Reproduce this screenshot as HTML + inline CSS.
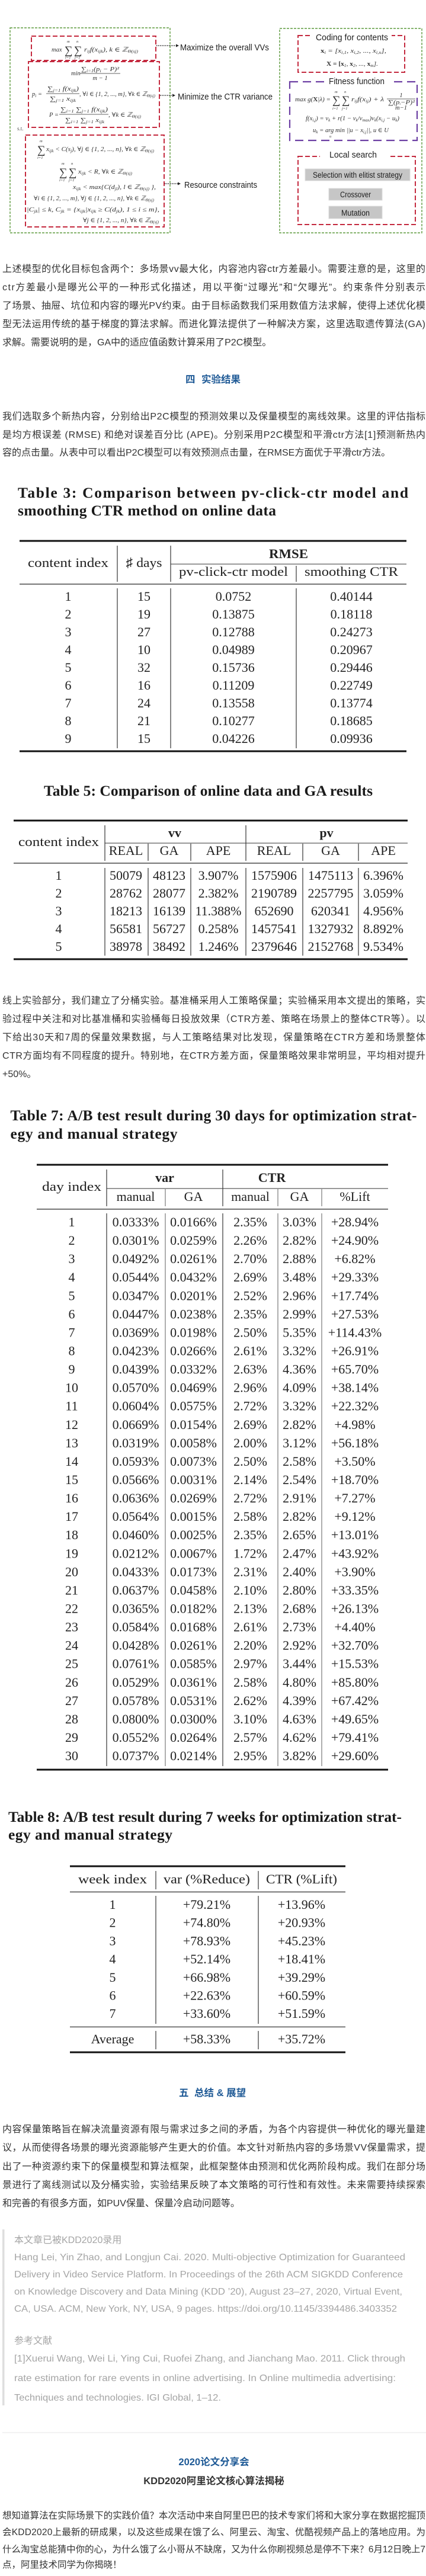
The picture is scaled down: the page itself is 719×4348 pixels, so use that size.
<!DOCTYPE html>
<html><head><meta charset="utf-8">
<style>
html,body{margin:0;padding:0;background:#fff;}
svg{display:block;}
.p{font-family:"Liberation Sans","Noto Sans CJK SC",sans-serif;font-size:16px;fill:#333;}
.p5{font-family:"Liberation Sans","Noto Sans CJK SC",sans-serif;font-size:15.5px;fill:#333;}
.h{font-family:"Liberation Sans","Noto Sans CJK SC",sans-serif;font-size:16.5px;font-weight:bold;fill:#1f5a96;}
.t{font-family:"Liberation Serif",serif;font-size:25.5px;font-weight:bold;fill:#1a1a1a;}
.s{font-family:"Liberation Serif","DejaVu Serif",serif;font-size:22px;fill:#222;}
.b{font-weight:bold;}
.q{font-family:"Liberation Sans","Noto Sans CJK SC",sans-serif;font-size:16px;fill:#a5a5a5;}
.fm{font-family:"Liberation Serif","DejaVu Serif",serif;font-style:italic;font-size:10.5px;fill:#333;}
.sg{font-family:"Liberation Serif","DejaVu Serif",serif;font-style:normal;font-size:19px;fill:#333;}
.lim{font-family:"Liberation Serif","DejaVu Serif",serif;font-style:italic;font-size:6.5px;fill:#333;}
.fl{font-family:"Liberation Sans","DejaVu Sans",sans-serif;font-size:15px;fill:#1e1e1e;}
.bt{font-family:"Liberation Sans","DejaVu Sans",sans-serif;font-size:13.5px;fill:#1e1e1e;}
.vl{stroke:#333;stroke-width:1.2;}
.vg{stroke:#777;stroke-width:1.2;}
</style></head>
<body>
<svg width="719" height="4348" viewBox="0 0 719 4348" xmlns="http://www.w3.org/2000/svg">
<rect x="0" y="0" width="719" height="4348" fill="#fff"/>

<!-- ================= FIGURE ================= -->
<g fill="none">
<rect x="17" y="47" width="270" height="346" stroke="#5f9b3f" stroke-width="1.4" stroke-dasharray="4 2"/>
<rect x="472" y="48" width="240" height="345" stroke="#5f9b3f" stroke-width="1.4" stroke-dasharray="4 2"/>
<rect x="53" y="61" width="210" height="41" stroke="#c42a3f" stroke-width="2" stroke-dasharray="8 4"/>
<rect x="48" y="104" width="221" height="111" stroke="#c42a3f" stroke-width="2" stroke-dasharray="8 4"/>
<rect x="43" y="228" width="234" height="155" stroke="#c42a3f" stroke-width="2" stroke-dasharray="8 4"/>
<rect x="503" y="60" width="180" height="62" stroke="#c42a3f" stroke-width="2" stroke-dasharray="8 4"/>
<rect x="489" y="138" width="215" height="99" stroke="#6c3fa3" stroke-width="2.2" stroke-dasharray="14 8"/>
<rect x="503" y="264" width="198" height="115" stroke="#c42a3f" stroke-width="2" stroke-dasharray="8 4"/>
</g>
<rect x="526" y="52" width="135" height="18" fill="#fff"/>
<rect x="548" y="128" width="109" height="18" fill="#fff"/>
<rect x="540" y="250" width="115" height="20" fill="#fff"/>

<!-- left formulas -->
<text class="fm" x="87" y="87">max</text>
<text class="sg" x="109" y="91">∑</text><text class="sg" x="125" y="91">∑</text>
<text class="lim" x="113" y="72">m</text><text class="lim" x="129" y="72">n</text>
<text class="lim" x="110" y="99">i=1</text><text class="lim" x="126" y="99">j=1</text>
<text class="fm" x="142" y="87" textLength="91" lengthAdjust="spacingAndGlyphs">r<tspan font-size="7" dy="2">ij</tspan><tspan dy="-2">f(x</tspan><tspan font-size="7" dy="2">ijk</tspan><tspan dy="-2">), k ∈ ℤ</tspan><tspan font-size="7" dy="2">Θ(sj)</tspan></text>

<text class="fm" x="120" y="127">min</text>
<text class="fm" x="137" y="120" textLength="64" lengthAdjust="spacingAndGlyphs">∑<tspan font-size="7" dy="2">i=1</tspan><tspan dy="-2">(p</tspan><tspan font-size="7" dy="2">i</tspan><tspan dy="-2"> − P)²</tspan></text>
<line x1="135" y1="124" x2="203" y2="124" stroke="#333" stroke-width="0.8"/>
<text class="fm" x="169" y="135" text-anchor="middle">m − 1</text>

<text class="fm" x="54" y="162">p<tspan font-size="7" dy="2">i</tspan><tspan dy="-2"> =</tspan></text>
<text class="fm" x="80" y="153" textLength="53" lengthAdjust="spacingAndGlyphs">∑<tspan font-size="7" dy="2">j=1</tspan><tspan dy="-2"> f(x</tspan><tspan font-size="7" dy="2">ijk</tspan><tspan dy="-2">)</tspan></text>
<line x1="78" y1="158" x2="134" y2="158" stroke="#333" stroke-width="0.8"/>
<text class="fm" x="84" y="170" textLength="44" lengthAdjust="spacingAndGlyphs">∑<tspan font-size="7" dy="2">j=1</tspan><tspan dy="-2"> x</tspan><tspan font-size="7" dy="2">ijk</tspan></text>
<text class="fm" x="134" y="162" textLength="128" lengthAdjust="spacingAndGlyphs">, ∀i ∈ {1, 2, ..., m}, ∀k ∈ ℤ<tspan font-size="7" dy="2">Θ(sj)</tspan></text>

<text class="fm" x="83" y="197">P =</text>
<text class="fm" x="102" y="188" textLength="80" lengthAdjust="spacingAndGlyphs">∑<tspan font-size="7" dy="2">i=1</tspan><tspan dy="-2"> ∑</tspan><tspan font-size="7" dy="2">j=1</tspan><tspan dy="-2"> f(x</tspan><tspan font-size="7" dy="2">ijk</tspan><tspan dy="-2">)</tspan></text>
<line x1="100" y1="193" x2="183" y2="193" stroke="#333" stroke-width="0.8"/>
<text class="fm" x="110" y="206" textLength="66" lengthAdjust="spacingAndGlyphs">∑<tspan font-size="7" dy="2">i=1</tspan><tspan dy="-2"> ∑</tspan><tspan font-size="7" dy="2">j=1</tspan><tspan dy="-2"> x</tspan><tspan font-size="7" dy="2">ijk</tspan></text>
<text class="fm" x="183" y="197" textLength="55" lengthAdjust="spacingAndGlyphs">, ∀k ∈ ℤ<tspan font-size="7" dy="2">Θ(sj)</tspan></text>
<text x="29" y="220" font-family="Liberation Serif,serif" font-size="9" fill="#555">s.t.</text>

<text class="sg" x="63" y="259">∑</text>
<text class="lim" x="67" y="240">m</text><text class="lim" x="63" y="268">i=1</text>
<text class="fm" x="78" y="255" textLength="182" lengthAdjust="spacingAndGlyphs">x<tspan font-size="7" dy="2">ijk</tspan><tspan dy="-2"> &lt; C(s</tspan><tspan font-size="7" dy="2">j</tspan><tspan dy="-2">), ∀j ∈ {1, 2, ..., n}, ∀k ∈ ℤ</tspan><tspan font-size="7" dy="2">Θ(sj)</tspan></text>
<text class="sg" x="100" y="297">∑</text><text class="sg" x="116" y="297">∑</text>
<text class="lim" x="104" y="278">m</text><text class="lim" x="120" y="278">n</text>
<text class="lim" x="100" y="306">i=1</text><text class="lim" x="116" y="306">j=1</text>
<text class="fm" x="132" y="293" textLength="91" lengthAdjust="spacingAndGlyphs">x<tspan font-size="7" dy="2">ijk</tspan><tspan dy="-2"> &lt; R, ∀k ∈ ℤ</tspan><tspan font-size="7" dy="2">Θ(sj)</tspan></text>
<text class="fm" x="123" y="319" textLength="140" lengthAdjust="spacingAndGlyphs">x<tspan font-size="7" dy="2">ijk</tspan><tspan dy="-2"> &lt; max{C(d</tspan><tspan font-size="7" dy="2">jl</tspan><tspan dy="-2">), l ∈ ℤ</tspan><tspan font-size="7" dy="2">Θ(sj)</tspan><tspan dy="-2"> },</tspan></text>
<text class="fm" x="57" y="338" textLength="203" lengthAdjust="spacingAndGlyphs">∀i ∈ {1, 2, ..., m}, ∀j ∈ {1, 2, ..., n}, ∀k ∈ ℤ<tspan font-size="7" dy="2">Θ(sj)</tspan></text>
<text class="fm" x="45" y="357" textLength="224" lengthAdjust="spacingAndGlyphs">|C<tspan font-size="7" dy="2">jk</tspan><tspan dy="-2">| ≤ k, C</tspan><tspan font-size="7" dy="2">jk</tspan><tspan dy="-2"> = {x</tspan><tspan font-size="7" dy="2">ijk</tspan><tspan dy="-2">|x</tspan><tspan font-size="7" dy="2">ijk</tspan><tspan dy="-2"> ≥ C(d</tspan><tspan font-size="7" dy="2">jk</tspan><tspan dy="-2">), 1 ≤ i ≤ m},</tspan></text>
<text class="fm" x="140" y="375" textLength="128" lengthAdjust="spacingAndGlyphs">∀j ∈ {1, 2, ..., n}, ∀k ∈ ℤ<tspan font-size="7" dy="2">Θ(sj)</tspan></text>

<!-- arrows -->
<line x1="264" y1="77" x2="297" y2="77" stroke="#222" stroke-width="1.5" stroke-dasharray="1.5 1.5"/>
<polygon points="297,74.5 302,77 297,79.5" fill="#222"/>
<line x1="270" y1="161" x2="291" y2="161" stroke="#222" stroke-width="1.5" stroke-dasharray="1.5 1.5"/>
<polygon points="291,158.5 296,161 291,163.5" fill="#222"/>
<line x1="278" y1="310" x2="300" y2="310" stroke="#222" stroke-width="1.5" stroke-dasharray="1.5 1.5"/>
<polygon points="300,307.5 305,310 300,312.5" fill="#222"/>
<text class="fl" x="304" y="85" textLength="150" lengthAdjust="spacingAndGlyphs">Maximize the overall VVs</text>
<text class="fl" x="300" y="168" textLength="160" lengthAdjust="spacingAndGlyphs">Minimize the CTR variance</text>
<text class="fl" x="311" y="317" textLength="123" lengthAdjust="spacingAndGlyphs">Resource constraints</text>

<!-- right side -->
<text class="fl" x="533" y="68" textLength="122" lengthAdjust="spacingAndGlyphs">Coding for contents</text>
<text class="fm" x="541" y="89" textLength="111" lengthAdjust="spacingAndGlyphs"><tspan font-weight="bold" font-style="normal">x</tspan><tspan font-size="7" dy="2">i</tspan><tspan dy="-2"> = [x</tspan><tspan font-size="7" dy="2">i,1</tspan><tspan dy="-2">, x</tspan><tspan font-size="7" dy="2">i,2</tspan><tspan dy="-2">, ..., x</tspan><tspan font-size="7" dy="2">i,n</tspan><tspan dy="-2">],</tspan></text>
<text class="fm" x="551" y="111" textLength="87" lengthAdjust="spacingAndGlyphs"><tspan font-weight="bold" font-style="normal">X = [x</tspan><tspan font-size="7" dy="2">1</tspan><tspan dy="-2">, </tspan><tspan font-weight="bold" font-style="normal">x</tspan><tspan font-size="7" dy="2">2</tspan><tspan dy="-2">, ..., </tspan><tspan font-weight="bold" font-style="normal">x</tspan><tspan font-size="7" dy="2">m</tspan><tspan dy="-2">].</tspan></text>

<text class="fl" x="555" y="142" textLength="94" lengthAdjust="spacingAndGlyphs">Fitness function</text>
<text class="fm" x="498" y="171" textLength="60" lengthAdjust="spacingAndGlyphs">max g(<tspan font-weight="bold" font-style="normal">X</tspan>|λ) =</text>
<text class="sg" x="561" y="175" font-size="18">∑</text><text class="sg" x="577" y="175" font-size="18">∑</text>
<text class="lim" x="565" y="157">m</text><text class="lim" x="581" y="157">n</text>
<text class="lim" x="561" y="185">i=1</text><text class="lim" x="577" y="185">j=1</text>
<text class="fm" x="593" y="171" textLength="55" lengthAdjust="spacingAndGlyphs">r<tspan font-size="7" dy="2">ij</tspan><tspan dy="-2">f(x</tspan><tspan font-size="7" dy="2">ij</tspan><tspan dy="-2">) + λ</tspan></text>
<text class="fm" x="677" y="164" text-anchor="middle">1</text>
<line x1="653" y1="167" x2="701" y2="167" stroke="#333" stroke-width="0.8"/>
<text class="fm" x="655" y="176" font-size="7" textLength="45" lengthAdjust="spacingAndGlyphs">∑(p<tspan font-size="5" dy="1">i</tspan><tspan dy="-1">−P)²</tspan></text>
<text class="fm" x="677" y="185" font-size="7" text-anchor="middle">m−1</text>
<text class="fm" x="516" y="203" textLength="158" lengthAdjust="spacingAndGlyphs">f(x<tspan font-size="7" dy="2">i,j</tspan><tspan dy="-2">) = v</tspan><tspan font-size="7" dy="2">k</tspan><tspan dy="-2"> + r(1 − v</tspan><tspan font-size="7" dy="2">k</tspan><tspan dy="-2">/v</tspan><tspan font-size="7" dy="2">max</tspan><tspan dy="-2">)v</tspan><tspan font-size="7" dy="2">k</tspan><tspan dy="-2">(x</tspan><tspan font-size="7" dy="2">i,j</tspan><tspan dy="-2"> − u</tspan><tspan font-size="7" dy="2">k</tspan><tspan dy="-2">)</tspan></text>
<text class="fm" x="528" y="223" textLength="128" lengthAdjust="spacingAndGlyphs">u<tspan font-size="7" dy="2">k</tspan><tspan dy="-2"> = arg min ||u − x</tspan><tspan font-size="7" dy="2">i,j</tspan><tspan dy="-2">||, u ∈ U</tspan></text>
<text class="lim" x="556" y="232">u</text>

<text class="fl" x="556" y="266" textLength="80" lengthAdjust="spacingAndGlyphs">Local search</text>
<rect x="515" y="285" width="177" height="20" fill="#c6c6c6" stroke="#dcdcdc" stroke-width="1"/>
<text class="bt" x="528" y="300" textLength="151" lengthAdjust="spacingAndGlyphs">Selection with elitist strategy</text>
<rect x="555" y="318" width="90" height="20" fill="#c6c6c6" stroke="#dcdcdc" stroke-width="1"/>
<text class="bt" x="574" y="333" textLength="52" lengthAdjust="spacingAndGlyphs">Crossover</text>
<rect x="555" y="348" width="90" height="21" fill="#c6c6c6" stroke="#dcdcdc" stroke-width="1"/>
<text class="bt" x="576" y="364" textLength="48" lengthAdjust="spacingAndGlyphs">Mutation</text>

<!-- ================= PARAGRAPH 1 ================= -->
<text class="p" x="4" y="459" textLength="714" lengthAdjust="spacing">上述模型的优化目标包含两个：多场景vv最大化，内容池内容ctr方差最小。需要注意的是，这里的</text>
<text class="p" x="4" y="490" textLength="714" lengthAdjust="spacing">ctr方差最小是曝光公平的一种形式化描述，用以平衡“过曝光”和“欠曝光”。约束条件分别表示</text>
<text class="p" x="4" y="521" textLength="714" lengthAdjust="spacing">了场景、抽屉、坑位和内容的曝光PV约束。由于目标函数我们采用数值方法求解，使得上述优化模</text>
<text class="p" x="4" y="552" textLength="714" lengthAdjust="spacing">型无法运用传统的基于梯度的算法求解。而进化算法提供了一种解决方案，这里选取遗传算法(GA)</text>
<text class="p" x="4" y="583">求解。需要说明的是，GA中的适应值函数计算采用了P2C模型。</text>

<text class="h" x="313" y="646">四</text><text class="h" x="340" y="646">实验结果</text>

<text class="p" x="4" y="708" textLength="714" lengthAdjust="spacing">我们选取多个新热内容，分别给出P2C模型的预测效果以及保量模型的离线效果。这里的评估指标</text>
<text class="p" x="4" y="739" textLength="714" lengthAdjust="spacing">是均方根误差 (RMSE) 和绝对误差百分比 (APE)。分别采用P2C模型和平滑ctr方法[1]预测新热内</text>
<text class="p" x="4" y="769">容的点击量。从表中可以看出P2C模型可以有效预测点击量，在RMSE方面优于平滑ctr方法。</text>

<!-- ================= TABLE 3 ================= -->
<text class="t" x="30" y="840" textLength="659" lengthAdjust="spacing">Table 3: Comparison between pv-click-ctr model and</text>
<text class="t" x="30" y="870" textLength="436" lengthAdjust="spacing">smoothing CTR method on online data</text>

<rect x="33" y="911.5" width="653" height="3" fill="#111"/>
<rect x="288" y="951.5" width="398" height="1.2" fill="#555"/>
<rect x="33" y="985" width="653" height="1.8" fill="#666"/>
<rect x="33" y="1266.5" width="653" height="3" fill="#111"/>
<line class="vl" x1="198" y1="921" x2="198" y2="982"/>
<line class="vl" x1="288" y1="921" x2="288" y2="982"/>
<line class="vl" x1="500" y1="955" x2="500" y2="982"/>
<line class="vl" x1="198" y1="993" x2="198" y2="1263"/>
<line class="vl" x1="288" y1="993" x2="288" y2="1263"/>
<line class="vl" x1="500" y1="993" x2="500" y2="1263"/>
<text class="s" x="115" y="957" text-anchor="middle" textLength="136" lengthAdjust="spacingAndGlyphs">content index</text>
<text class="s" x="243" y="957" text-anchor="middle" textLength="61" lengthAdjust="spacingAndGlyphs">♯ days</text>
<text class="s b" x="487" y="942" text-anchor="middle" textLength="66" lengthAdjust="spacingAndGlyphs">RMSE</text>
<text class="s" x="394" y="972" text-anchor="middle" textLength="184" lengthAdjust="spacingAndGlyphs">pv-click-ctr model</text>
<text class="s" x="593" y="972" text-anchor="middle" textLength="158" lengthAdjust="spacingAndGlyphs">smoothing CTR</text>
<g class="s" text-anchor="middle">
<text y="1014"><tspan x="115">1</tspan><tspan x="243">15</tspan><tspan x="394">0.0752</tspan><tspan x="593">0.40144</tspan></text>
<text y="1044"><tspan x="115">2</tspan><tspan x="243">19</tspan><tspan x="394">0.13875</tspan><tspan x="593">0.18118</tspan></text>
<text y="1074"><tspan x="115">3</tspan><tspan x="243">27</tspan><tspan x="394">0.12788</tspan><tspan x="593">0.24273</tspan></text>
<text y="1104"><tspan x="115">4</tspan><tspan x="243">10</tspan><tspan x="394">0.04989</tspan><tspan x="593">0.20967</tspan></text>
<text y="1134"><tspan x="115">5</tspan><tspan x="243">32</tspan><tspan x="394">0.15736</tspan><tspan x="593">0.29446</tspan></text>
<text y="1164"><tspan x="115">6</tspan><tspan x="243">16</tspan><tspan x="394">0.11209</tspan><tspan x="593">0.22749</tspan></text>
<text y="1194"><tspan x="115">7</tspan><tspan x="243">24</tspan><tspan x="394">0.13558</tspan><tspan x="593">0.13774</tspan></text>
<text y="1224"><tspan x="115">8</tspan><tspan x="243">21</tspan><tspan x="394">0.10277</tspan><tspan x="593">0.18685</tspan></text>
<text y="1254"><tspan x="115">9</tspan><tspan x="243">15</tspan><tspan x="394">0.04226</tspan><tspan x="593">0.09936</tspan></text>
</g>

<!-- ================= TABLE 5 ================= -->
<text class="t" x="74" y="1343" textLength="555" lengthAdjust="spacing">Table 5: Comparison of online data and GA results</text>
<rect x="23" y="1383.5" width="665" height="3" fill="#111"/>
<rect x="177" y="1422.5" width="511" height="1.2" fill="#555"/>
<rect x="23" y="1456" width="665" height="1.8" fill="#666"/>
<rect x="23" y="1617.5" width="665" height="3" fill="#111"/>
<line class="vl" x1="177" y1="1393" x2="177" y2="1453"/>
<line class="vl" x1="415" y1="1393" x2="415" y2="1453"/>
<line class="vl" x1="250" y1="1424" x2="250" y2="1453"/>
<line class="vl" x1="322" y1="1424" x2="322" y2="1453"/>
<line class="vl" x1="511" y1="1424" x2="511" y2="1453"/>
<line class="vl" x1="605" y1="1424" x2="605" y2="1453"/>
<line class="vl" x1="177" y1="1465" x2="177" y2="1613"/>
<line class="vl" x1="250" y1="1465" x2="250" y2="1613"/>
<line class="vl" x1="322" y1="1465" x2="322" y2="1613"/>
<line class="vl" x1="415" y1="1465" x2="415" y2="1613"/>
<line class="vl" x1="511" y1="1465" x2="511" y2="1613"/>
<line class="vl" x1="605" y1="1465" x2="605" y2="1613"/>
<text class="s" x="99" y="1428" text-anchor="middle" textLength="136" lengthAdjust="spacingAndGlyphs">content index</text>
<text class="s b" x="295" y="1413" text-anchor="middle">vv</text>
<text class="s b" x="551" y="1413" text-anchor="middle">pv</text>
<g class="s" text-anchor="middle">
<text y="1443"><tspan x="212.5">REAL</tspan><tspan x="285.5">GA</tspan><tspan x="368.5">APE</tspan><tspan x="462.5">REAL</tspan><tspan x="558">GA</tspan><tspan x="647">APE</tspan></text>
<text y="1485"><tspan x="99">1</tspan><tspan x="212.5">50079</tspan><tspan x="285.5">48123</tspan><tspan x="368.5">3.907%</tspan><tspan x="462.5">1575906</tspan><tspan x="558">1475113</tspan><tspan x="647">6.396%</tspan></text>
<text y="1515"><tspan x="99">2</tspan><tspan x="212.5">28762</tspan><tspan x="285.5">28077</tspan><tspan x="368.5">2.382%</tspan><tspan x="462.5">2190789</tspan><tspan x="558">2257795</tspan><tspan x="647">3.059%</tspan></text>
<text y="1545"><tspan x="99">3</tspan><tspan x="212.5">18213</tspan><tspan x="285.5">16139</tspan><tspan x="368.5">11.388%</tspan><tspan x="462.5">652690</tspan><tspan x="558">620341</tspan><tspan x="647">4.956%</tspan></text>
<text y="1575"><tspan x="99">4</tspan><tspan x="212.5">56581</tspan><tspan x="285.5">56727</tspan><tspan x="368.5">0.258%</tspan><tspan x="462.5">1457541</tspan><tspan x="558">1327932</tspan><tspan x="647">8.892%</tspan></text>
<text y="1605"><tspan x="99">5</tspan><tspan x="212.5">38978</tspan><tspan x="285.5">38492</tspan><tspan x="368.5">1.246%</tspan><tspan x="462.5">2379646</tspan><tspan x="558">2152768</tspan><tspan x="647">9.534%</tspan></text>
</g>

<!-- ================= PARAGRAPH 3 ================= -->
<text class="p" x="4" y="1694" textLength="714" lengthAdjust="spacing">线上实验部分，我们建立了分桶实验。基准桶采用人工策略保量；实验桶采用本文提出的策略，实</text>
<text class="p" x="4" y="1725" textLength="714" lengthAdjust="spacing">验过程中关注和对比基准桶和实验桶每日投放效果（CTR方差、策略在场景上的整体CTR等）。以</text>
<text class="p" x="4" y="1756" textLength="714" lengthAdjust="spacing">下给出30天和7周的保量效果数据，与人工策略结果对比发现，保量策略在CTR方差和场景整体</text>
<text class="p" x="4" y="1787" textLength="714" lengthAdjust="spacing">CTR方面均有不同程度的提升。特别地，在CTR方差方面，保量策略效果非常明显，平均相对提升</text>
<text class="p" x="4" y="1818">+50%。</text>

<!-- ================= TABLE 7 ================= -->
<text class="t" x="17.5" y="1891" textLength="686" lengthAdjust="spacing">Table 7: A/B test result during 30 days for optimization strat-</text>
<text class="t" x="17.5" y="1922" textLength="282" lengthAdjust="spacing">egy and manual strategy</text>
<rect x="62" y="1964.5" width="593" height="3" fill="#111"/>
<rect x="180" y="2005.5" width="475" height="1.2" fill="#555"/>
<rect x="62" y="2040" width="593" height="1.8" fill="#666"/>
<rect x="62" y="2985.5" width="593" height="3" fill="#111"/>
<line class="vl" x1="180" y1="1974" x2="180" y2="2036"/>
<line class="vl" x1="376" y1="1974" x2="376" y2="2036"/>
<line class="vg" x1="279" y1="2007" x2="279" y2="2036"/>
<line class="vg" x1="469" y1="2007" x2="469" y2="2036"/>
<line class="vg" x1="543" y1="2007" x2="543" y2="2036"/>
<line class="vl" x1="180" y1="2048" x2="180" y2="2981"/>
<line class="vg" x1="279" y1="2048" x2="279" y2="2981"/>
<line class="vl" x1="376" y1="2048" x2="376" y2="2981"/>
<line class="vg" x1="469" y1="2048" x2="469" y2="2981"/>
<line class="vg" x1="543" y1="2048" x2="543" y2="2981"/>
<text class="s" x="121" y="2010" text-anchor="middle" textLength="100" lengthAdjust="spacingAndGlyphs">day index</text>
<text class="s b" x="278" y="1995" text-anchor="middle">var</text>
<text class="s b" x="459" y="1995" text-anchor="middle">CTR</text>
<g class="s" text-anchor="middle">
<text y="2027"><tspan x="229">manual</tspan><tspan x="326.5">GA</tspan><tspan x="422.5">manual</tspan><tspan x="505.5">GA</tspan><tspan x="599">%Lift</tspan></text>
<text y="2070"><tspan x="121">1</tspan><tspan x="229">0.0333%</tspan><tspan x="326.5">0.0166%</tspan><tspan x="422.5">2.35%</tspan><tspan x="505.5">3.03%</tspan><tspan x="599">+28.94%</tspan></text>
<text y="2101.1"><tspan x="121">2</tspan><tspan x="229">0.0301%</tspan><tspan x="326.5">0.0259%</tspan><tspan x="422.5">2.26%</tspan><tspan x="505.5">2.82%</tspan><tspan x="599">+24.90%</tspan></text>
<text y="2132.1"><tspan x="121">3</tspan><tspan x="229">0.0492%</tspan><tspan x="326.5">0.0261%</tspan><tspan x="422.5">2.70%</tspan><tspan x="505.5">2.88%</tspan><tspan x="599">+6.82%</tspan></text>
<text y="2163.2"><tspan x="121">4</tspan><tspan x="229">0.0544%</tspan><tspan x="326.5">0.0432%</tspan><tspan x="422.5">2.69%</tspan><tspan x="505.5">3.48%</tspan><tspan x="599">+29.33%</tspan></text>
<text y="2194.3"><tspan x="121">5</tspan><tspan x="229">0.0347%</tspan><tspan x="326.5">0.0201%</tspan><tspan x="422.5">2.52%</tspan><tspan x="505.5">2.96%</tspan><tspan x="599">+17.74%</tspan></text>
<text y="2225.4"><tspan x="121">6</tspan><tspan x="229">0.0447%</tspan><tspan x="326.5">0.0238%</tspan><tspan x="422.5">2.35%</tspan><tspan x="505.5">2.99%</tspan><tspan x="599">+27.53%</tspan></text>
<text y="2256.4"><tspan x="121">7</tspan><tspan x="229">0.0369%</tspan><tspan x="326.5">0.0198%</tspan><tspan x="422.5">2.50%</tspan><tspan x="505.5">5.35%</tspan><tspan x="599">+114.43%</tspan></text>
<text y="2287.5"><tspan x="121">8</tspan><tspan x="229">0.0423%</tspan><tspan x="326.5">0.0266%</tspan><tspan x="422.5">2.61%</tspan><tspan x="505.5">3.32%</tspan><tspan x="599">+26.91%</tspan></text>
<text y="2318.6"><tspan x="121">9</tspan><tspan x="229">0.0439%</tspan><tspan x="326.5">0.0332%</tspan><tspan x="422.5">2.63%</tspan><tspan x="505.5">4.36%</tspan><tspan x="599">+65.70%</tspan></text>
<text y="2349.6"><tspan x="121">10</tspan><tspan x="229">0.0570%</tspan><tspan x="326.5">0.0469%</tspan><tspan x="422.5">2.96%</tspan><tspan x="505.5">4.09%</tspan><tspan x="599">+38.14%</tspan></text>
<text y="2380.7"><tspan x="121">11</tspan><tspan x="229">0.0604%</tspan><tspan x="326.5">0.0575%</tspan><tspan x="422.5">2.72%</tspan><tspan x="505.5">3.32%</tspan><tspan x="599">+22.32%</tspan></text>
<text y="2411.8"><tspan x="121">12</tspan><tspan x="229">0.0669%</tspan><tspan x="326.5">0.0154%</tspan><tspan x="422.5">2.69%</tspan><tspan x="505.5">2.82%</tspan><tspan x="599">+4.98%</tspan></text>
<text y="2442.8"><tspan x="121">13</tspan><tspan x="229">0.0319%</tspan><tspan x="326.5">0.0058%</tspan><tspan x="422.5">2.00%</tspan><tspan x="505.5">3.12%</tspan><tspan x="599">+56.18%</tspan></text>
<text y="2473.9"><tspan x="121">14</tspan><tspan x="229">0.0593%</tspan><tspan x="326.5">0.0073%</tspan><tspan x="422.5">2.50%</tspan><tspan x="505.5">2.58%</tspan><tspan x="599">+3.50%</tspan></text>
<text y="2505"><tspan x="121">15</tspan><tspan x="229">0.0566%</tspan><tspan x="326.5">0.0031%</tspan><tspan x="422.5">2.14%</tspan><tspan x="505.5">2.54%</tspan><tspan x="599">+18.70%</tspan></text>
<text y="2536.1"><tspan x="121">16</tspan><tspan x="229">0.0636%</tspan><tspan x="326.5">0.0269%</tspan><tspan x="422.5">2.72%</tspan><tspan x="505.5">2.91%</tspan><tspan x="599">+7.27%</tspan></text>
<text y="2567.1"><tspan x="121">17</tspan><tspan x="229">0.0564%</tspan><tspan x="326.5">0.0015%</tspan><tspan x="422.5">2.58%</tspan><tspan x="505.5">2.82%</tspan><tspan x="599">+9.12%</tspan></text>
<text y="2598.2"><tspan x="121">18</tspan><tspan x="229">0.0460%</tspan><tspan x="326.5">0.0025%</tspan><tspan x="422.5">2.35%</tspan><tspan x="505.5">2.65%</tspan><tspan x="599">+13.01%</tspan></text>
<text y="2629.3"><tspan x="121">19</tspan><tspan x="229">0.0212%</tspan><tspan x="326.5">0.0067%</tspan><tspan x="422.5">1.72%</tspan><tspan x="505.5">2.47%</tspan><tspan x="599">+43.92%</tspan></text>
<text y="2660.3"><tspan x="121">20</tspan><tspan x="229">0.0433%</tspan><tspan x="326.5">0.0173%</tspan><tspan x="422.5">2.31%</tspan><tspan x="505.5">2.40%</tspan><tspan x="599">+3.90%</tspan></text>
<text y="2691.4"><tspan x="121">21</tspan><tspan x="229">0.0637%</tspan><tspan x="326.5">0.0458%</tspan><tspan x="422.5">2.10%</tspan><tspan x="505.5">2.80%</tspan><tspan x="599">+33.35%</tspan></text>
<text y="2722.5"><tspan x="121">22</tspan><tspan x="229">0.0365%</tspan><tspan x="326.5">0.0182%</tspan><tspan x="422.5">2.13%</tspan><tspan x="505.5">2.68%</tspan><tspan x="599">+26.13%</tspan></text>
<text y="2753.6"><tspan x="121">23</tspan><tspan x="229">0.0584%</tspan><tspan x="326.5">0.0168%</tspan><tspan x="422.5">2.61%</tspan><tspan x="505.5">2.73%</tspan><tspan x="599">+4.40%</tspan></text>
<text y="2784.6"><tspan x="121">24</tspan><tspan x="229">0.0428%</tspan><tspan x="326.5">0.0261%</tspan><tspan x="422.5">2.20%</tspan><tspan x="505.5">2.92%</tspan><tspan x="599">+32.70%</tspan></text>
<text y="2815.7"><tspan x="121">25</tspan><tspan x="229">0.0761%</tspan><tspan x="326.5">0.0585%</tspan><tspan x="422.5">2.97%</tspan><tspan x="505.5">3.44%</tspan><tspan x="599">+15.53%</tspan></text>
<text y="2846.8"><tspan x="121">26</tspan><tspan x="229">0.0529%</tspan><tspan x="326.5">0.0361%</tspan><tspan x="422.5">2.58%</tspan><tspan x="505.5">4.80%</tspan><tspan x="599">+85.80%</tspan></text>
<text y="2877.9"><tspan x="121">27</tspan><tspan x="229">0.0578%</tspan><tspan x="326.5">0.0531%</tspan><tspan x="422.5">2.62%</tspan><tspan x="505.5">4.39%</tspan><tspan x="599">+67.42%</tspan></text>
<text y="2908.9"><tspan x="121">28</tspan><tspan x="229">0.0800%</tspan><tspan x="326.5">0.0300%</tspan><tspan x="422.5">3.10%</tspan><tspan x="505.5">4.63%</tspan><tspan x="599">+49.65%</tspan></text>
<text y="2940"><tspan x="121">29</tspan><tspan x="229">0.0552%</tspan><tspan x="326.5">0.0264%</tspan><tspan x="422.5">2.57%</tspan><tspan x="505.5">4.62%</tspan><tspan x="599">+79.41%</tspan></text>
<text y="2971.1"><tspan x="121">30</tspan><tspan x="229">0.0737%</tspan><tspan x="326.5">0.0214%</tspan><tspan x="422.5">2.95%</tspan><tspan x="505.5">3.82%</tspan><tspan x="599">+29.60%</tspan></text>
</g>

<!-- ================= TABLE 8 ================= -->
<text class="t" x="14" y="3075" textLength="664" lengthAdjust="spacing">Table 8: A/B test result during 7 weeks for optimization strat-</text>
<text class="t" x="14" y="3105" textLength="277" lengthAdjust="spacing">egy and manual strategy</text>
<rect x="118" y="3148.5" width="465" height="3" fill="#111"/>
<rect x="118" y="3192.5" width="465" height="1.8" fill="#666"/>
<rect x="118" y="3420.5" width="465" height="1.5" fill="#555"/>
<rect x="118" y="3462.5" width="465" height="3" fill="#111"/>
<line class="vl" x1="263" y1="3158" x2="263" y2="3189"/>
<line class="vl" x1="436" y1="3158" x2="436" y2="3189"/>
<line class="vl" x1="263" y1="3200" x2="263" y2="3416"/>
<line class="vl" x1="436" y1="3200" x2="436" y2="3416"/>
<line class="vl" x1="263" y1="3428" x2="263" y2="3459"/>
<line class="vl" x1="436" y1="3428" x2="436" y2="3459"/>
<text class="s" x="190" y="3179" text-anchor="middle" textLength="116" lengthAdjust="spacingAndGlyphs">week index</text>
<text class="s" x="349" y="3179" text-anchor="middle" textLength="146" lengthAdjust="spacingAndGlyphs">var (%Reduce)</text>
<text class="s" x="509" y="3179" text-anchor="middle" textLength="120" lengthAdjust="spacingAndGlyphs">CTR (%Lift)</text>
<g class="s" text-anchor="middle">
<text y="3222"><tspan x="190">1</tspan><tspan x="349">+79.21%</tspan><tspan x="509">+13.96%</tspan></text>
<text y="3252.7"><tspan x="190">2</tspan><tspan x="349">+74.80%</tspan><tspan x="509">+20.93%</tspan></text>
<text y="3283.4"><tspan x="190">3</tspan><tspan x="349">+78.93%</tspan><tspan x="509">+45.23%</tspan></text>
<text y="3314.1"><tspan x="190">4</tspan><tspan x="349">+52.14%</tspan><tspan x="509">+18.41%</tspan></text>
<text y="3344.8"><tspan x="190">5</tspan><tspan x="349">+66.98%</tspan><tspan x="509">+39.29%</tspan></text>
<text y="3375.5"><tspan x="190">6</tspan><tspan x="349">+22.63%</tspan><tspan x="509">+60.59%</tspan></text>
<text y="3406.2"><tspan x="190">7</tspan><tspan x="349">+33.60%</tspan><tspan x="509">+51.59%</tspan></text>
<text y="3449"><tspan x="190">Average</tspan><tspan x="349">+58.33%</tspan><tspan x="509">+35.72%</tspan></text>
</g>

<!-- ================= CONCLUSION ================= -->
<text class="h" x="302" y="3538">五</text><text class="h" x="328" y="3538">总结 &amp; 展望</text>
<text class="p" x="4" y="3599" textLength="714" lengthAdjust="spacing">内容保量策略旨在解决流量资源有限与需求过多之间的矛盾，为各个内容提供一种优化的曝光量建</text>
<text class="p" x="4" y="3630" textLength="714" lengthAdjust="spacing">议，从而使得各场景的曝光资源能够产生更大的价值。本文针对新热内容的多场景VV保量需求，提</text>
<text class="p" x="4" y="3662" textLength="714" lengthAdjust="spacing">出了一种资源约束下的保量模型和算法框架，此框架整体由预测和优化两阶段构成。我们在部分场</text>
<text class="p" x="4" y="3693" textLength="714" lengthAdjust="spacing">景进行了离线测试以及分桶实验，实验结果反映了本文策略的可行性和有效性。未来需要持续探索</text>
<text class="p" x="4" y="3724">和完善的有很多方面，如PUV保量、保量冷启动问题等。</text>

<!-- blockquote -->
<rect x="4" y="3763" width="3.5" height="297" fill="#dedede"/>
<text class="q" x="24" y="3786">本文章已被KDD2020录用</text>
<text class="q" x="24" y="3815" textLength="660" lengthAdjust="spacingAndGlyphs">Hang Lei, Yin Zhao, and Longjun Cai. 2020. Multi-objective Optimization for Guaranteed</text>
<text class="q" x="24" y="3844" textLength="656" lengthAdjust="spacingAndGlyphs">Delivery in Video Service Platform. In Proceedings of the 26th ACM SIGKDD Conference</text>
<text class="q" x="24" y="3873" textLength="655" lengthAdjust="spacingAndGlyphs">on Knowledge Discovery and Data Mining (KDD ’20), August 23–27, 2020, Virtual Event,</text>
<text class="q" x="24" y="3902" textLength="646" lengthAdjust="spacingAndGlyphs">CA, USA. ACM, New York, NY, USA, 9 pages. https://doi.org/10.1145/3394486.3403352</text>
<text class="q" x="24" y="3956">参考文献</text>
<text class="q" x="24" y="3986" textLength="660" lengthAdjust="spacingAndGlyphs">[1]Xuerui Wang, Wei Li, Ying Cui, Ruofei Zhang, and Jianchang Mao. 2011. Click through</text>
<text class="q" x="24" y="4019" textLength="644" lengthAdjust="spacingAndGlyphs">rate estimation for rare events in online advertising. In Online multimedia advertising:</text>
<text class="q" x="24" y="4052" textLength="349" lengthAdjust="spacingAndGlyphs">Techniques and technologies. IGI Global, 1–12.</text>

<rect x="4" y="4105.5" width="715" height="1" fill="#e6e6e6"/>

<text class="h" x="361" y="4161" text-anchor="middle" font-size="16">2020论文分享会</text>
<text class="h" x="361" y="4193" text-anchor="middle" font-size="16" style="fill:#333">KDD2020阿里论文核心算法揭秘</text>

<text class="p5" x="4" y="4251" textLength="714" lengthAdjust="spacing">想知道算法在实际场景下的实践价值？本次活动中来自阿里巴巴的技术专家们将和大家分享在数据挖掘顶</text>
<text class="p5" x="4" y="4279" textLength="714" lengthAdjust="spacing">会KDD2020上最新的研成果，以及这些成果在饿了么、阿里云、淘宝、优酷视频产品上的落地应用。为</text>
<text class="p5" x="4" y="4308" textLength="714" lengthAdjust="spacing">什么淘宝总能猜中你的心，为什么饿了么小哥从不缺席，又为什么你刷视频总是停不下来？6月12日晚上7</text>
<text class="p5" x="4" y="4334">点，阿里技术同学为你揭晓！</text>
</svg>
</body></html>
